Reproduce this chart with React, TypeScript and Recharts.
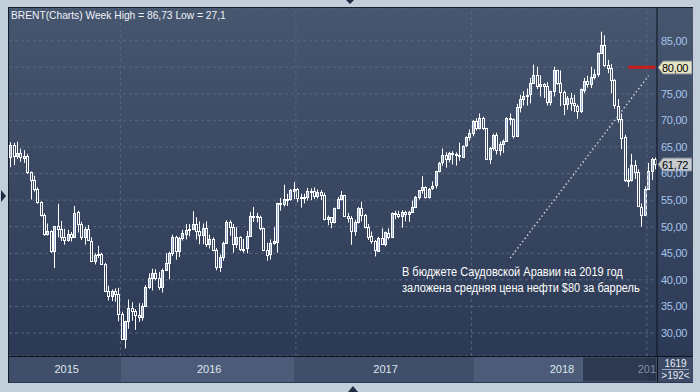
import React from 'react';
import { ComposedChart, Bar, Line, XAxis, YAxis, CartesianGrid, ReferenceLine, ReferenceArea } from 'recharts';

// weekly Brent candles, week of 25 May 2015 .. week of 21 Jan 2019 (192 bars)
const opens = [
  // 2015
  63.2, 65.4, 63.3, 63.9, 63.0, 63.3, 60.3, 58.7, 57.1, 54.6, 52.2, 48.6, 49.2, 45.5, 50.1, 49.6,
  48.1, 47.5, 48.6, 48.1, 52.7, 50.5, 48.0, 49.6, 47.4, 43.6, 44.7, 44.9, 43.0, 37.9, 36.9, 37.9,
  // 2016
  37.3, 33.6, 28.9, 32.2, 34.7, 34.1, 33.4, 33.0, 35.1, 38.7, 40.4, 41.2, 40.4, 38.7, 41.9, 43.1,
  45.1, 48.1, 45.4, 47.8, 48.7, 49.3, 49.6, 50.5, 49.2, 48.4, 49.7, 46.8, 47.6, 45.7, 42.5, 44.3,
  47.0, 50.9, 49.9, 46.8, 48.0, 45.8, 45.9, 48.2, 51.9, 52.0, 51.8, 49.7, 45.6, 44.8, 46.9, 47.2,
  54.5, 54.3, 55.2, 55.2,
  // 2017
  56.8, 57.1, 55.5, 55.5, 55.5, 56.8, 56.7, 55.8, 56.6, 55.9, 51.4, 51.8, 50.8, 53.5, 55.2, 55.9,
  52.0, 51.7, 49.1, 50.8, 53.6, 52.2, 50.0, 48.2, 47.4, 45.5, 47.9, 46.7, 48.9, 48.1, 52.5, 52.4,
  52.1, 52.7, 52.4, 52.8, 53.8, 55.6, 56.9, 57.5, 55.6, 57.2, 57.8, 60.4, 62.1, 63.5, 62.7, 63.9,
  63.7, 63.4, 63.2, 65.3,
  // 2018 - 2019
  66.9, 67.6, 69.9, 68.6, 70.5, 68.6, 62.8, 64.8, 67.3, 64.4, 65.5, 66.2, 70.5, 70.3, 67.1, 72.6,
  74.1, 74.6, 74.9, 77.1, 78.5, 76.4, 76.8, 76.5, 73.4, 75.6, 79.4, 77.1, 75.3, 73.1, 74.3, 73.2,
  72.8, 71.8, 75.8, 77.4, 76.8, 78.1, 78.8, 82.7, 84.2, 80.4, 79.8, 77.6, 72.8, 70.2, 66.8, 58.8,
  58.7, 61.7, 60.3, 53.8, 52.2, 57.1, 60.5, 62.7,
];

const highs = [
  65.9, 65.8, 66.0, 64.7, 64.4, 63.7, 60.4, 59.6, 57.4, 54.8, 52.5, 50.6, 49.3, 50.1, 54.3, 51.1,
  49.6, 49.4, 49.0, 53.9, 53.0, 50.9, 50.0, 50.3, 48.0, 45.0, 46.4, 45.1, 43.2, 38.9, 38.2, 38.4,
  38.5, 34.0, 32.3, 36.3, 35.8, 34.5, 35.6, 35.6, 39.0, 41.2, 42.1, 42.0, 41.5, 42.1, 45.0, 45.3,
  48.5, 48.3, 48.1, 49.4, 50.5, 50.5, 52.9, 51.8, 51.0, 50.6, 51.0, 48.5, 48.0, 46.0, 44.8, 47.2,
  51.2, 51.2, 50.5, 49.9, 48.2, 47.7, 49.2, 52.8, 53.7, 52.6, 52.1, 49.8, 47.0, 47.6, 49.9, 54.5,
  55.4, 57.9, 56.2, 57.1,
  58.4, 57.3, 56.2, 56.2, 57.3, 57.2, 57.4, 57.0, 56.9, 56.4, 52.1, 51.8, 53.6, 55.6, 56.7, 56.0,
  52.6, 52.0, 51.3, 53.7, 54.7, 52.4, 50.5, 49.1, 47.5, 48.1, 49.7, 49.1, 49.7, 52.7, 53.0, 53.0,
  53.1, 53.0, 53.0, 54.9, 55.8, 56.9, 59.5, 57.6, 57.3, 58.5, 60.5, 62.2, 64.7, 64.0, 64.1, 64.2,
  64.0, 65.8, 65.3, 67.0,
  68.3, 70.1, 70.4, 71.3, 70.7, 68.6, 65.0, 67.5, 67.7, 66.0, 66.4, 70.6, 71.3, 70.4, 73.1, 74.8,
  75.5, 76.0, 78.0, 80.5, 80.1, 78.5, 77.0, 77.2, 75.6, 80.1, 79.5, 79.4, 75.6, 74.6, 75.2, 74.8,
  73.0, 76.0, 78.0, 78.4, 80.1, 79.6, 82.8, 86.7, 86.0, 81.4, 80.6, 77.8, 74.0, 71.3, 67.3, 61.0,
  63.7, 62.5, 60.8, 54.4, 57.6, 62.0, 63.0, 63.0,
];

const lows = [
  61.2, 61.6, 62.7, 62.2, 62.0, 59.9, 55.1, 56.6, 54.3, 51.9, 48.3, 48.3, 45.1, 42.2, 48.0, 47.3,
  46.6, 47.2, 47.2, 48.0, 48.9, 47.5, 46.6, 47.3, 43.4, 42.9, 44.1, 42.8, 37.7, 36.1, 36.0, 35.9,
  32.2, 28.8, 27.1, 30.8, 32.3, 30.6, 32.1, 32.3, 35.1, 38.3, 38.0, 39.9, 38.1, 37.6, 41.7, 40.1,
  44.5, 43.8, 44.3, 47.4, 47.6, 48.2, 49.5, 47.6, 46.7, 46.7, 46.2, 45.9, 45.4, 41.8, 41.5, 43.6,
  46.8, 48.3, 45.1, 46.0, 45.4, 45.1, 45.0, 48.1, 50.9, 50.8, 49.3, 45.5, 43.6, 43.8, 46.6, 45.1,
  53.0, 53.8, 53.9, 54.9,
  55.2, 54.6, 53.6, 54.4, 54.9, 55.0, 55.2, 55.3, 55.0, 51.2, 50.3, 49.7, 50.6, 53.4, 54.9, 51.8,
  50.8, 46.6, 48.3, 50.6, 51.0, 49.7, 47.5, 46.8, 44.4, 45.3, 46.6, 46.3, 47.6, 47.9, 51.4, 51.6,
  49.8, 51.0, 50.9, 52.6, 53.5, 55.1, 56.2, 55.3, 55.3, 56.9, 57.2, 60.2, 61.5, 61.1, 62.1, 61.7,
  61.5, 62.4, 63.0, 65.0,
  66.2, 67.0, 68.1, 68.3, 68.2, 62.6, 61.8, 64.3, 63.6, 63.4, 63.9, 66.0, 69.1, 66.6, 67.1, 71.5,
  72.8, 72.8, 73.2, 76.9, 75.9, 74.5, 74.2, 72.8, 72.8, 74.5, 76.7, 72.7, 71.0, 72.0, 71.8, 71.6,
  70.3, 71.4, 75.1, 76.2, 76.1, 77.7, 78.2, 82.6, 80.1, 78.9, 75.1, 72.2, 69.6, 64.6, 58.4, 57.5,
  58.5, 59.0, 53.8, 50.0, 52.0, 57.0, 58.8, 60.8,
];

const closes = [
  65.4, 63.31, 63.87, 63.02, 63.26, 60.32, 58.73, 57.1, 54.62, 52.21, 48.61, 49.19, 45.46, 50.05, 49.61, 48.14,
  47.47, 48.6, 48.13, 52.65, 50.46, 47.99, 49.56, 47.42, 43.61, 44.66, 44.86, 43.0, 37.93, 36.88, 37.89, 37.28,
  33.55, 28.94, 32.18, 34.74, 34.06, 33.36, 33.01, 35.1, 38.72, 40.39, 41.2, 40.44, 38.67, 41.94, 43.1, 45.11,
  48.13, 45.37, 47.83, 48.72, 49.32, 49.64, 50.54, 49.17, 48.41, 49.71, 46.76, 47.61, 45.69, 42.46, 44.27, 46.97,
  50.88, 49.92, 46.83, 48.01, 45.77, 45.89, 48.24, 51.93, 51.95, 51.78, 49.71, 45.58, 44.75, 46.86, 47.24, 54.46,
  54.33, 55.21, 55.16, 56.82,
  57.1, 55.45, 55.49, 55.52, 56.81, 56.7, 55.81, 56.58, 55.9, 51.37, 51.76, 50.8, 53.53, 55.24, 55.89, 51.96,
  51.73, 49.1, 50.84, 53.61, 52.15, 49.95, 48.15, 47.37, 45.54, 47.92, 46.71, 48.91, 48.06, 52.52, 52.42, 52.1,
  52.72, 52.41, 52.75, 53.78, 55.62, 56.86, 57.54, 55.62, 57.17, 57.75, 60.44, 62.07, 63.52, 62.72, 63.86, 63.73,
  63.4, 63.23, 65.25, 66.87,
  67.62, 69.87, 68.61, 70.52, 68.58, 62.79, 64.84, 67.31, 64.37, 65.49, 66.21, 70.45, 70.27, 67.11, 72.58, 74.06,
  74.64, 74.87, 77.12, 78.51, 76.44, 76.79, 76.46, 73.44, 75.55, 79.44, 77.11, 75.33, 73.07, 74.29, 73.21, 72.81,
  71.83, 75.82, 77.42, 76.83, 78.09, 78.8, 82.72, 84.16, 80.43, 79.78, 77.62, 72.83, 70.18, 66.76, 58.8, 58.71,
  61.67, 60.28, 53.82, 52.2, 57.06, 60.48, 62.7, 61.72,
];

const priceTicks = [30, 35, 40, 45, 50, 55, 60, 65, 70, 75, 80, 85];
// first bar of each year (for the dashed separators)
const yearStarts = [33, 85, 137, 189];
const yearLabels = [
  { year: '2015', at: 17 },
  { year: '2016', at: 59 },
  { year: '2017', at: 111 },
  { year: '2018', at: 163 },
];
const budgetPrice = 80;
const lastPrice = 61.72;

const data = closes.map((c, i) => ({ i, o: opens[i], h: highs[i], l: lows[i], c }));

const FONT = '"Liberation Sans", Arial, sans-serif';
const GRID = '#56667f';

const Candle = (props: any) => {
  const { x, y, width, height, payload } = props;
  const { o, h, l, c } = payload;
  const top = Math.min(y, y + height);
  const span = Math.abs(height);
  const k = h > l ? span / (h - l) : 0;
  const py = (v: number) => top + (h - v) * k;
  const left = Math.round(x + width / 2 - 1.5);
  const bTop = Math.round(py(Math.max(o, c)));
  const bBot = Math.max(Math.round(py(Math.min(o, c))), bTop + 1);
  const up = c >= o;
  const wx = left + 1.5;
  return (
    <g>
      <line x1={wx} x2={wx} y1={top} y2={bTop} stroke="#fff" />
      <line x1={wx} x2={wx} y1={bBot + 1} y2={top + span} stroke="#fff" />
      <rect x={left + 0.5} y={bTop + 0.5} width={2} height={bBot - bTop} fill={up ? '#9db5d8' : 'none'} stroke="#fff" />
    </g>
  );
};

const PriceTag = (props: any) => {
  const { viewBox, text, bg } = props;
  if (!viewBox) return null;
  const x = viewBox.x + viewBox.width;
  const y = Math.round(viewBox.y) + 0.5;
  return (
    <g>
      <path d={`M${x + 1},${y} L${x + 6},${y - 6.5} H${x + 35} V${y + 6.5} H${x + 6} Z`} fill={bg} stroke="#7d8290" />
      <text x={x + 5} y={y + 4} fontSize={11} fill="#000" fontFamily={FONT} letterSpacing={-0.3}>{text}</text>
    </g>
  );
};

const fmt = (v: number) => (v === budgetPrice ? '' : v.toFixed(2).replace('.', ','));

const tri = (style: React.CSSProperties): React.CSSProperties => ({ position: 'absolute', width: 0, height: 0, ...style });

export default function App() {
  return (
    <div style={{ position: 'absolute', left: 0, top: 0, width: 700, height: 392, background: '#c3cedb', fontFamily: FONT, overflow: 'hidden' }}>
      {/* scroll arrows of the frame */}
      <div style={tri({ left: 346, top: 0, borderLeft: '4px solid transparent', borderRight: '4px solid transparent', borderTop: '4px solid #1e2b42' })} />
      <div style={tri({ left: 348, top: 386, borderLeft: '5px solid transparent', borderRight: '5px solid transparent', borderBottom: '6px solid #1e2b42' })} />
      <div style={tri({ left: 1, top: 190, borderTop: '6px solid transparent', borderBottom: '6px solid transparent', borderLeft: '5px solid #1e2b42' })} />

      {/* dark panel */}
      <div style={{ position: 'absolute', left: 8, top: 7, width: 685, height: 376, background: 'linear-gradient(#47566f, #2a3753)', boxSizing: 'border-box', borderLeft: '1px solid #141b2a', borderTop: '1px solid #141b2a' }} />

      <div style={{ position: 'absolute', left: 9, top: 8 }}>
        <ComposedChart width={683} height={348} data={data} margin={{ top: 0, right: 0, bottom: 0, left: 0 }}>
          <CartesianGrid vertical={false} stroke={GRID} strokeDasharray="3 3" />
          <XAxis dataKey="i" type="category" hide />
          <YAxis
            orientation="right"
            width={35}
            domain={[25.67, 91.15]}
            ticks={priceTicks}
            allowDataOverflow
            tickLine={false}
            tickSize={0}
            tickMargin={4}
            axisLine={{ stroke: '#0c1220' }}
            tick={{ fill: '#a6c4ec', fontSize: 11, fontFamily: FONT, letterSpacing: -0.3 }}
            tickFormatter={fmt}
          />
          {yearStarts.map(s => (
            <ReferenceLine key={s} x={s} position="start" stroke={GRID} strokeDasharray="3 3" />
          ))}
          <Bar dataKey={(d: any) => [d.l, d.h]} shape={Candle} isAnimationActive={false} />
          <ReferenceLine
            segment={[{ x: 148, y: 44.1 }, { x: 189, y: 78.4 }]}
            stroke="#c9cdd6"
            strokeWidth={1.5}
            strokeDasharray="1.5 2.5"
          />
          <ReferenceLine segment={[{ x: 183, y: budgetPrice }, { x: 191, y: budgetPrice }]} stroke="#cc1d1d" strokeWidth={3} />
          <ReferenceLine y={budgetPrice} stroke="none" label={<PriceTag text="80,00" bg="#e5e4c5" />} />
          <ReferenceLine y={lastPrice} stroke="none" label={<PriceTag text="61,72" bg="#c7cacf" />} />
        </ComposedChart>
      </div>

      <div style={{ position: 'absolute', left: 11, top: 9, fontSize: 11, lineHeight: '13px', color: '#eef2f8', whiteSpace: 'nowrap', transform: 'scaleX(0.93)', transformOrigin: 'left top' }}>
        BRENT(Charts) Week High = 86,73 Low = 27,1
      </div>

      <div style={{ position: 'absolute', left: 402, top: 264, fontSize: 12, lineHeight: '16px', color: '#ffffff', whiteSpace: 'nowrap', transform: 'scaleX(0.915)', transformOrigin: 'left top' }}>
        В бюджете Саудовской Аравии на 2019 год
        <br />
        заложена средняя цена нефти $80 за баррель
      </div>

      {/* time axis row */}
      <div style={{ position: 'absolute', left: 8, top: 356, width: 685, height: 1, background: '#0c1220' }} />
      <div style={{ position: 'absolute', left: 9, top: 357, width: 648, height: 25, background: '#3f4e69' }}>
        <ComposedChart width={648} height={25} data={data} margin={{ top: 0, right: 0, bottom: 0, left: 0 }}>
          <XAxis dataKey="i" type="category" hide />
          <YAxis hide domain={[0, 1]} allowDataOverflow />
          <Line dataKey={() => -1} stroke="none" dot={false} activeDot={false} isAnimationActive={false} />
          <ReferenceArea x1={33} x2={84} fill="#4c5c78" fillOpacity={1} stroke="none" />
          <ReferenceArea x1={137} x2={188} fill="#4c5c78" fillOpacity={1} stroke="none" />
          <ReferenceArea x1={169} x2={191} fill="#222d44" fillOpacity={0.75} stroke="#56647c" />
          {yearLabels.map(y => (
            <ReferenceLine
              key={y.year}
              x={y.at}
              position="start"
              stroke="none"
              label={{ value: y.year, position: 'center', fill: '#dfe6f0', fontSize: 11, fontFamily: FONT }}
            />
          ))}
          <ReferenceLine x={188} stroke="none" label={{ value: '201', position: 'center', fill: '#7f8ea8', fontSize: 11, fontFamily: FONT }} />
        </ComposedChart>
      </div>
      <div style={{ position: 'absolute', left: 657, top: 357, width: 36, height: 25, background: '#3c4a65', borderLeft: '1px solid #0c1220', boxSizing: 'border-box', color: '#e8eef8', fontSize: 10, textAlign: 'center' }}>
        <div style={{ lineHeight: '11px', margin: '1px 4px 0', borderBottom: '1px solid #9aa6ba' }}>1619</div>
        <div style={{ lineHeight: '11px' }}>&gt;192&lt;</div>
      </div>
    </div>
  );
}
